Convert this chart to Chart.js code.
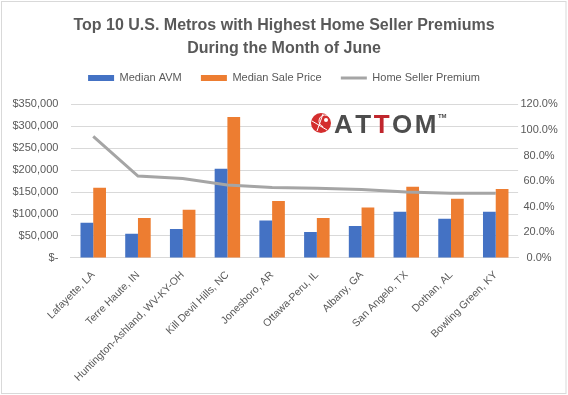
<!DOCTYPE html>
<html>
<head>
<meta charset="utf-8">
<script src="https://cdn.jsdelivr.net/npm/chart.js@4.4.1/dist/chart.umd.min.js"></script>
<style>
  html, body { margin: 0; padding: 0; background: #fff; }
  #wrap { width: 568px; height: 395px; }
</style>
</head>
<body>
<div id="wrap"><canvas id="chart" width="568" height="395"></canvas></div>
<script>
// DATA
const metros = [
  'Lafayette, LA', 'Terre Haute, IN', 'Huntington-Ashland, WV-KY-OH', 'Kill Devil Hills, NC',
  'Jonesboro, AR', 'Ottawa-Peru, IL', 'Albany, GA', 'San Angelo, TX', 'Dothan, AL', 'Bowling Green, KY'
];
const medianAvm = [80000, 55000, 66000, 203000, 85000, 59000, 73000, 105000, 89000, 105000];
const medianSalePrice = [160000, 91000, 110000, 321000, 130000, 91000, 115000, 162000, 135000, 157000];
const sellerPremium = [0.95, 0.64, 0.62, 0.57, 0.55, 0.545, 0.535, 0.515, 0.505, 0.505];

const FONT = "'Liberation Sans', Arial, sans-serif";
const TEXT = '#595959';
const GRID = '#D9D9D9';
const LEGEND_GAP = 11; // extra room under the legend row

// white background + thin outer frame like the spreadsheet chart
const framePlugin = {
  id: 'frame',
  beforeLayout(chart) {
    const lg = chart.legend;
    if (lg && !lg._patched) {
      const fit = lg.fit.bind(lg);
      lg.fit = function () { fit(); this.height += LEGEND_GAP; };
      lg._patched = true;
    }
  },
  beforeDraw(chart) {
    const ctx = chart.ctx;
    ctx.save();
    ctx.fillStyle = '#fff';
    ctx.fillRect(0, 0, chart.width, chart.height);
    ctx.restore();
  },
  afterDraw(chart) {
    const ctx = chart.ctx;
    ctx.save();
    ctx.strokeStyle = GRID;
    ctx.lineWidth = 1;
    ctx.strokeRect(1.5, 1.5, chart.width - 3.5, chart.height - 3);
    ctx.restore();
  }
};

// ATTOM watermark logo
const logoPlugin = {
  id: 'logo',
  afterDatasetsDraw(chart) {
    const ctx = chart.ctx;
    ctx.save();
    const cx = 321, cy = 123, r = 10;
    ctx.fillStyle = '#D42E2E';
    ctx.beginPath();
    ctx.arc(cx, cy, r, 0, Math.PI * 2);
    ctx.fill();
    ctx.strokeStyle = '#fff';
    ctx.lineWidth = 1;
    ctx.beginPath();
    ctx.arc(cx + 4, cy - 2, 6, Math.PI * 0.6, Math.PI * 1.9);
    ctx.moveTo(cx - 9, cy - 2); ctx.lineTo(cx + 6, cy + 7);
    ctx.moveTo(cx - 4, cy + 8); ctx.lineTo(cx + 2, cy - 9);
    ctx.stroke();
    ctx.fillStyle = '#fff';
    ctx.beginPath();
    ctx.arc(cx + 5, cy - 3, 2, 0, Math.PI * 2);
    ctx.fill();
    ctx.font = 'bold 26px ' + FONT;
    ctx.textBaseline = 'alphabetic';
    const letters = ['A', 'T', 'T', 'O', 'M'];
    const colors = ['#4D4D4D', '#4D4D4D', '#C0262D', '#4D4D4D', '#4D4D4D'];
    let x = 334;
    letters.forEach((ch, i) => {
      ctx.fillStyle = colors[i];
      ctx.fillText(ch, x, 133);
      x += ctx.measureText(ch).width + 2.5;
    });
    ctx.font = 'bold 6px ' + FONT;
    ctx.fillStyle = '#4D4D4D';
    ctx.fillText('TM', x - 1, 118);
    ctx.restore();
  }
};

new Chart(document.getElementById('chart'), {
  type: 'bar',
  data: {
    labels: metros,
    datasets: [
      {
        type: 'line',
        label: 'Home Seller Premium',
        data: sellerPremium,
        yAxisID: 'y1',
        borderColor: '#A5A5A5',
        backgroundColor: '#A5A5A5',
        borderWidth: 3,
        pointRadius: 0,
        tension: 0,
        order: 0
      },
      {
        label: 'Median AVM',
        data: medianAvm,
        yAxisID: 'y',
        backgroundColor: '#4472C4',
        categoryPercentage: 0.57,
        barPercentage: 1.0,
        order: 1
      },
      {
        label: 'Median Sale Price',
        data: medianSalePrice,
        yAxisID: 'y',
        backgroundColor: '#ED7D31',
        categoryPercentage: 0.57,
        barPercentage: 1.0,
        order: 1
      }
    ]
  },
  options: {
    responsive: false,
    animation: false,
    layout: { padding: { left: 0, right: 0, top: 0, bottom: 8 } },
    plugins: {
      title: {
        display: true,
        text: ['Top 10 U.S. Metros with Highest Home Seller Premiums', 'During the Month of June'],
        color: TEXT,
        font: { family: FONT, size: 16, weight: 'bold', lineHeight: 1.45 },
        padding: { top: 14, bottom: 2 }
      },
      legend: {
        position: 'top',
        labels: {
          color: TEXT,
          font: { family: FONT, size: 11 },
          usePointStyle: true,
          pointStyleWidth: 26,
          boxHeight: 6,
          padding: 10,
          sort: (a, b) => a.datasetIndex === 0 ? 1 : (b.datasetIndex === 0 ? -1 : a.datasetIndex - b.datasetIndex),
          generateLabels(chart) {
            const items = Chart.defaults.plugins.legend.labels.generateLabels(chart);
            items.forEach(it => {
              if (it.datasetIndex === 0) {
                it.pointStyle = 'line';
                it.strokeStyle = '#A5A5A5';
                it.lineWidth = 3;
              } else {
                it.pointStyle = 'rect';
                it.lineWidth = 0;
                it.text = it.text + '   ';
              }
            });
            return items;
          }
        }
      },
      tooltip: { enabled: false }
    },
    scales: {
      x: {
        grid: { display: false },
        border: { display: true, color: GRID },
        afterFit(scale) { scale.paddingLeft = 0; scale.paddingRight = 0; },
        ticks: {
          color: TEXT,
          font: { family: FONT, size: 10.5 },
          minRotation: 45,
          maxRotation: 45,
          autoSkip: false
        }
      },
      y: {
        position: 'left',
        min: 0,
        max: 350000,
        grid: { color: GRID, drawTicks: false },
        border: { display: false },
        ticks: {
          stepSize: 50000,
          padding: 12.5,
          color: TEXT,
          font: { family: FONT, size: 11 },
          callback: v => v === 0 ? '$-' : '$' + v.toLocaleString('en-US')
        }
      },
      y1: {
        position: 'right',
        min: 0,
        max: 1.2,
        grid: { display: false, drawTicks: false },
        border: { display: false },
        afterFit(scale) { scale.width += 8; },
        ticks: {
          stepSize: 0.2,
          padding: 2.3,
          crossAlign: 'center',
          color: TEXT,
          font: { family: FONT, size: 11 },
          callback: v => (v * 100).toFixed(1) + '%'
        }
      }
    }
  },
  plugins: [framePlugin, logoPlugin]
});
</script>
</body>
</html>
